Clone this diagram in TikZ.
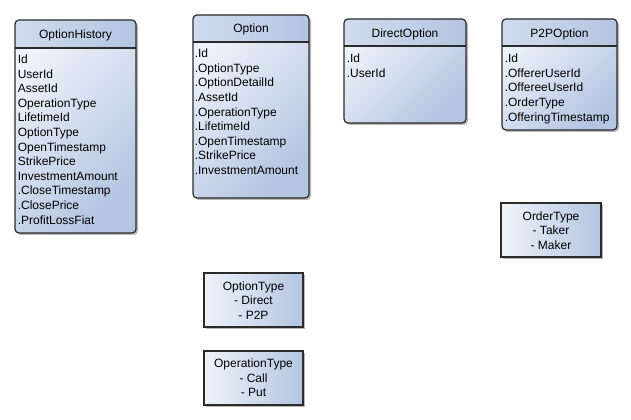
\documentclass[tikz,border=0pt]{standalone}
\usepackage{fontspec}
\setmainfont{Liberation Sans}
\definecolor{lite}{HTML}{EFF3FA}
\definecolor{dark}{HTML}{B3C5E1}
\definecolor{hlite}{HTML}{D0DCEE}
\definecolor{hdark}{HTML}{B3C5E1}
\definecolor{edgec}{HTML}{2B2B2B}
\definecolor{shadowc}{HTML}{B8B8B8}
\tikzset{
  bodyshade/.style={top color=lite, bottom color=dark, shading angle=45},
  headshade/.style={left color=hlite, right color=hdark},
  enumshade/.style={left color=lite, right color=dark},
  frame/.style={draw=edgec, line width=0.9pt},
  txt/.style={font=\fontsize{9}{11}\selectfont, inner sep=0pt, text=black},
}
\newcommand\classframe[5]{%
  \fill[shadowc, rounded corners=3pt] (#1+2,#2+2) rectangle (#3+2,#4+2);
  \shade[bodyshade, rounded corners=3pt] (#1,#2) rectangle (#3,#4);
  \begin{scope}
    \clip (#1-1,#2-1) rectangle (#3+1,#5);
    \shade[headshade, rounded corners=3pt] (#1,#2) rectangle (#3,#4);
  \end{scope}
  \draw[frame, rounded corners=3pt] (#1,#2) rectangle (#3,#4);
  \draw[frame] (#1,#5) -- (#3,#5);
}
\newcommand\enumframe[4]{%
  \fill[shadowc] (#1+2,#2+2) rectangle (#3+2,#4+2);
  \shade[enumshade] (#1,#2) rectangle (#3,#4);
  \draw[frame] (#1,#2) rectangle (#3,#4);
}
\begin{document}
\begin{tikzpicture}[x=0.75pt, y=-0.75pt]
\useasboundingbox (0,0) rectangle (631,420);
\fill[white] (0,0) rectangle (631,420);

% OptionHistory
\classframe{15}{20}{136}{233}{48}
\node[txt, anchor=base] (ohT) at (75.5,38.3) {OptionHistory};
\foreach \t [count=\i from 0] in {Id,UserId,AssetId,OperationType,LifetimeId,OptionType,OpenTimestamp,StrikePrice,InvestmentAmount,.CloseTimestamp,.ClosePrice,.ProfitLossFiat}
  \node[txt, anchor=base west] (oh-\i) at (17.5,63.5+\i*14.6) {\t};

% Option
\classframe{193}{15}{309}{198}{42}
\node[txt, anchor=base] (opT) at (251,32.7) {Option};
\foreach \t [count=\i from 0] in {.Id,.OptionType,.OptionDetailId,.AssetId,.OperationType,.LifetimeId,.OpenTimestamp,.StrikePrice,.InvestmentAmount}
  \node[txt, anchor=base west] (op-\i) at (194.5,57.7+\i*14.6) {\t};

% DirectOption
\classframe{344}{19}{466}{123}{46}
\node[txt, anchor=base] (doT) at (405,37.7) {DirectOption};
\foreach \t [count=\i from 0] in {.Id,.UserId}
  \node[txt, anchor=base west] (do-\i) at (346.5,62.7+\i*14.6) {\t};

% P2POption
\classframe{502}{19}{617}{130}{46}
\node[txt, anchor=base] (ppT) at (559.5,37.7) {P2POption};
\foreach \t [count=\i from 0] in {.Id,.OffererUserId,.OffereeUserId,.OrderType,.OfferingTimestamp}
  \node[txt, anchor=base west] (pp-\i) at (504.5,62.7+\i*14.6) {\t};

% OrderType
\enumframe{501}{203}{601}{257}
\foreach \t [count=\i from 0] in {OrderType,- Taker,- Maker}
  \node[txt, anchor=base] (ot-\i) at (551,220+\i*14.6) {\t};

% OptionType
\enumframe{204}{273}{303}{327}
\foreach \t [count=\i from 0] in {OptionType,- Direct,- P2P}
  \node[txt, anchor=base] (oy-\i) at (253.5,290+\i*14.6) {\t};

% OperationType
\enumframe{204}{351}{303}{405}
\foreach \t [count=\i from 0] in {OperationType,- Call,- Put}
  \node[txt, anchor=base] (ox-\i) at (253.5,367.7+\i*14.6) {\t};
\end{tikzpicture}
\end{document}
